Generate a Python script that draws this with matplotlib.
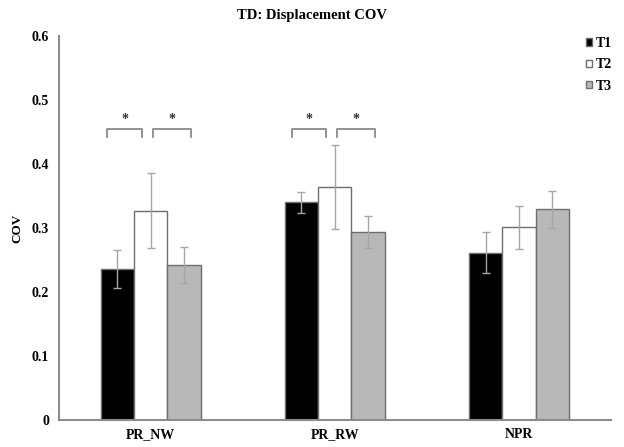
import numpy as np
import matplotlib
matplotlib.use("Agg")
from matplotlib import pyplot as plt

categories = ["PR_NW", "PR_RW", "NPR"]
series = ["T1", "T2", "T3"]
t1 = [0.236, 0.340, 0.261]
t2 = [0.327, 0.364, 0.301]
t3 = [0.242, 0.293, 0.329]
t1_err = [0.030, 0.017, 0.032]
t2_err = [0.059, 0.065, 0.034]
t3_err = [0.028, 0.025, 0.029]
# significance brackets: (category index, from bar, to bar)
sig_pairs = [(0, 0, 1), (0, 1, 2), (1, 0, 1), (1, 1, 2)]
bracket_y = 0.455

plt.rcParams['font.family'] = ['Liberation Serif', 'DejaVu Serif']
plt.rcParams['font.weight'] = 'bold'
plt.rcParams['axes.labelweight'] = 'bold'

fig = plt.figure(figsize=(6.24, 4.47), dpi=100)
ax = fig.add_axes([0.094, 0.0604, 0.885, 0.859])

x = np.arange(len(categories))
w = 0.181
offsets = [-w, 0, w]
fills = ["black", "white", "#b8b8b8"]
vals = [t1, t2, t3]
errs = [t1_err, t2_err, t3_err]

for i in range(3):
    ax.bar(x + offsets[i], vals[i], w, color=fills[i], edgecolor="#6e6e6e",
           linewidth=1.0, label=series[i], zorder=2)
    ax.errorbar(x + offsets[i], vals[i], yerr=errs[i], fmt="none",
                ecolor="#a6a6a6", elinewidth=1.0, capsize=3, capthick=1.0, zorder=3)

# brackets with stars
for cat, a, b in sig_pairs:
    if a == 0:
        x0, x1 = cat - 0.235, cat - 0.045
    else:
        x0, x1 = cat + 0.01, cat + 0.22
    ax.plot([x0, x0, x1, x1], [bracket_y - 0.013, bracket_y, bracket_y, bracket_y - 0.013],
            color="#808080", linewidth=1.2, zorder=3)
    ax.text((x0 + x1) / 2, bracket_y + 0.004, "*", ha="center", va="bottom",
            fontsize=10, color="#333333")

ax.set_xlim(-0.5, 2.5)
ax.set_ylim(0, 0.6)
ax.set_yticks([0, 0.1, 0.2, 0.3, 0.4, 0.5, 0.6])
ax.set_yticklabels(["0", "0.1", "0.2", "0.3", "0.4", "0.5", "0.6"])
ax.set_xticks(x)
ax.set_xticklabels(categories)
ax.tick_params(axis="both", length=0, labelsize=10)
ax.tick_params(axis="y", pad=7)
ax.tick_params(axis="x", pad=6)
for s in ["top", "right"]:
    ax.spines[s].set_visible(False)
for s in ["left", "bottom"]:
    ax.spines[s].set_color("#8c8c8c")
    ax.spines[s].set_linewidth(1.5)

ax.set_ylabel("COV", fontsize=9.5, labelpad=6)
fig.suptitle("TD: Displacement COV", fontsize=10.5, fontweight="bold", y=0.98)

leg = ax.legend(loc="upper right", bbox_to_anchor=(1.025, 1.03), frameon=False,
                fontsize=10, handlelength=0.45, handleheight=0.45, handletextpad=0.25,
                labelspacing=0.6)

fig.savefig("out.png", dpi=100)
